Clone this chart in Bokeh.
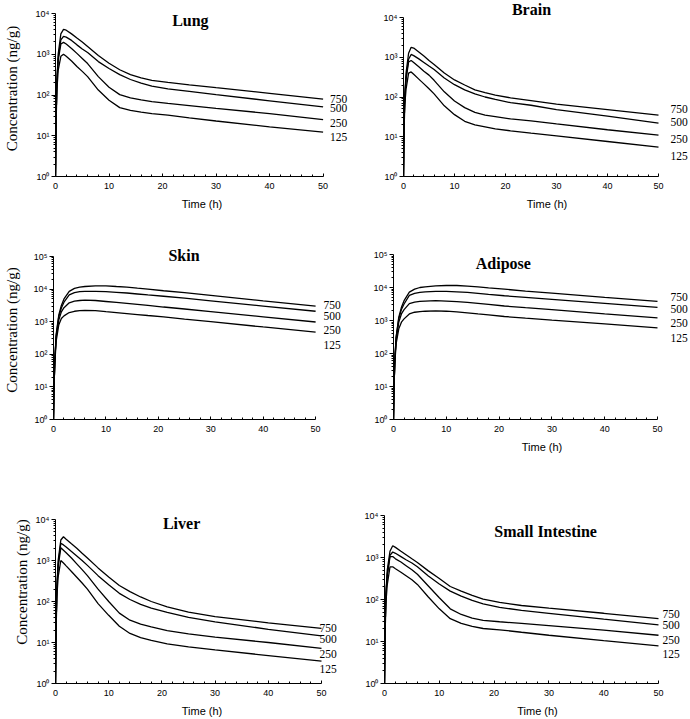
from bokeh.plotting import figure
from bokeh.models import FixedTicker, Label, CustomJSTickFormatter
from bokeh.layouts import column, row
from bokeh.embed import file_html
from bokeh.resources import INLINE

# ---------------- data (concentration, ng/g) ----------------
time_h = [0, 0.1, 0.25, 0.5, 1, 1.5, 2, 3, 4, 5, 6, 8, 10, 12, 14, 16, 18, 21, 25, 30, 40, 50]
doses = ["750", "500", "250", "125"]

lung_750 = [1, 20, 200, 1000, 3160, 4070, 3890, 3160, 2510, 2000, 1550, 930, 600, 417, 316, 263, 229, 204, 178, 151, 110, 79]
lung_500 = [1, 20, 200, 790, 2240, 2750, 2630, 2190, 1700, 1350, 1100, 660, 447, 316, 240, 195, 166, 141, 123, 102, 72, 51]
lung_250 = [1, 20, 200, 710, 1780, 1950, 1780, 1380, 1050, 790, 590, 282, 155, 102, 85, 76, 69, 62, 55, 47, 35, 25]
lung_125 = [1, 16, 126, 400, 890, 1000, 890, 680, 500, 380, 282, 132, 74, 49, 42, 38, 35, 32, 27.5, 23, 16.6, 12.3]

brain_750 = [1, 16, 100, 400, 1260, 1780, 1700, 1350, 1070, 830, 660, 400, 269, 200, 151, 129, 112, 95, 81, 66, 48, 35]
brain_500 = [1, 16, 100, 316, 890, 1175, 1100, 910, 740, 600, 490, 302, 204, 151, 120, 100, 87, 72, 62, 48, 33, 22]
brain_250 = [1, 16, 100, 282, 760, 830, 740, 575, 447, 355, 263, 135, 79, 54, 41, 35, 32, 28, 25, 21, 15, 11]
brain_125 = [1, 12.6, 63, 158, 400, 427, 372, 282, 214, 162, 120, 60, 36, 24.5, 20, 17.8, 15.8, 14.1, 12.3, 10.5, 7.6, 5.5]

skin_750 = [1, 10, 63, 400, 1580, 3160, 5010, 8510, 10500, 11500, 12000, 12600, 12600, 12000, 11500, 10700, 10000, 8910, 7760, 6460, 4370, 3020]
skin_500 = [1, 10, 63, 355, 1410, 2630, 3980, 6610, 7760, 8320, 8510, 8510, 8320, 7940, 7590, 7080, 6610, 6030, 5250, 4370, 3020, 2090]
skin_250 = [1, 10, 63, 316, 1120, 2000, 2690, 3800, 4270, 4470, 4570, 4470, 4170, 3890, 3630, 3390, 3160, 2820, 2450, 2040, 1410, 980]
skin_125 = [1, 10, 50, 250, 790, 1260, 1510, 1910, 2090, 2190, 2240, 2190, 2040, 1910, 1780, 1660, 1550, 1410, 1200, 1000, 690, 480]

adipose_750 = [1, 10, 63, 316, 1260, 2510, 3980, 7240, 8910, 10000, 10500, 11200, 11500, 11500, 11000, 10500, 9770, 8910, 7760, 6760, 5010, 3800]
adipose_500 = [1, 10, 63, 316, 1120, 2140, 3160, 5750, 6610, 7080, 7410, 7590, 7590, 7410, 7080, 6610, 6170, 5620, 5010, 4370, 3310, 2510]
adipose_250 = [1, 10, 63, 250, 890, 1580, 2140, 3240, 3630, 3800, 3890, 3980, 3890, 3720, 3550, 3310, 3090, 2750, 2450, 2140, 1580, 1200]
adipose_125 = [1, 10, 50, 200, 560, 890, 1120, 1580, 1780, 1860, 1910, 1950, 1910, 1820, 1700, 1580, 1480, 1320, 1175, 1020, 790, 600]

liver_750 = [1, 20, 200, 1000, 3160, 3800, 3310, 2570, 2000, 1510, 1150, 660, 398, 245, 174, 129, 100, 74, 55, 43, 30, 22]
liver_500 = [1, 20, 200, 790, 2630, 2400, 2140, 1660, 1290, 1000, 760, 427, 257, 158, 112, 85, 69, 54, 41, 32, 21, 14.5]
liver_250 = [1, 20, 200, 710, 2040, 1780, 1550, 1150, 830, 600, 427, 200, 100, 52, 35, 28, 24, 19.5, 16.2, 13.5, 10, 7.2]
liver_125 = [1, 16, 126, 400, 1000, 870, 740, 540, 390, 282, 200, 89, 46, 25, 16.6, 13.2, 11.2, 9.3, 7.8, 6.6, 4.8, 3.5]

si_750 = [1, 16, 126, 500, 1410, 1910, 1740, 1410, 1150, 930, 760, 480, 316, 204, 158, 126, 102, 85, 72, 62, 47, 35]
si_500 = [1, 16, 126, 400, 1120, 1350, 1260, 1050, 870, 740, 600, 363, 234, 158, 120, 95, 79, 65, 55, 47, 34, 25]
si_250 = [1, 16, 126, 355, 1050, 1050, 930, 780, 630, 510, 398, 209, 110, 60, 44, 36, 32, 29.5, 27, 24, 18.6, 14.1]
si_125 = [1, 12.6, 79, 224, 600, 600, 540, 447, 363, 295, 229, 115, 60, 35, 27, 23, 20.4, 19, 16.6, 14.1, 10.5, 7.9]

x_ticks = [0, 10, 20, 30, 40, 50]
x_max = 50

# ---------------- layout / style per panel ----------------
# w,h: figure size; bl: frame left; R: pixel of t=50; T: pixel of top decade; B: pixel of 10^0
panels = [
    dict(name="Lung", series=[lung_750, lung_500, lung_250, lung_125], top=4,
         w=348, h=240, bl=48, R=322, T=13, B=176, ylab=True, xlab=True, ystand=13,
         title_xy=(25.2, 10 ** 3.83), ldx=7, ldy=[-0.6, 1.5, 3.8, 5]),
    dict(name="Brain", series=[brain_750, brain_500, brain_250, brain_125], top=4,
         w=342, h=240, bl=55, R=310, T=17, B=176, ylab=False, xlab=True, ystand=8,
         title_xy=(25.1, 10 ** 4.20), ldx=12, ldy=[-6, -0.7, 3.7, 9]),
    dict(name="Skin", series=[skin_750, skin_500, skin_250, skin_125], top=5,
         w=348, h=240, bl=52, R=315, T=16, B=179, ylab=True, xlab=False, ystand=11,
         title_xy=(24.9, 10 ** 5.03), ldx=8, ldy=[-0.6, 5, 8.5, 13]),
    dict(name="Adipose", series=[adipose_750, adipose_500, adipose_250, adipose_125], top=5,
         w=342, h=240, bl=45, R=309, T=14, B=179, ylab=False, xlab=True, ystand=8,
         title_xy=(20.8, 10 ** 4.73), ldx=13, ldy=[-4, 1.2, 5.6, 9.7]),
    dict(name="Liver", series=[liver_750, liver_500, liver_250, liver_125], top=4,
         w=348, h=239, bl=55, R=321, T=39, B=203, ylab=True, xlab=True, ystand=3,
         title_xy=(23.7, 10 ** 3.90), ldx=-2, ldy=[0, 3.6, 5.3, 7.5]),
    dict(name="Small Intestine", series=[si_750, si_500, si_250, si_125], top=4,
         w=342, h=239, bl=36, R=310, T=35, B=203, ylab=False, xlab=True, ystand=8,
         title_xy=(29.4, 10 ** 3.62), ldx=4, ldy=[-5, 0, 4.3, 8]),
]

sup_js = "const s=['\u2070','\u00b9','\u00b2','\u00b3','\u2074','\u2075'];" \
         "return '10' + s[Math.round(Math.log10(tick))];"


def make_panel(spec):
    top = spec["top"]
    bl, R, T, B, w, h = spec["bl"], spec["R"], spec["T"], spec["B"], spec["w"], spec["h"]
    x_end = (w - bl) * x_max / (R - bl)
    y_end = 10 ** (B * top / (B - T))
    p = figure(width=w, height=h, x_range=(0, x_end), y_range=(1, y_end),
               y_axis_type="log", output_backend="svg", toolbar_location=None,
               min_border_left=bl, min_border_right=0,
               min_border_top=0, min_border_bottom=h - B)
    p.outline_line_color = None
    p.grid.visible = False
    p.background_fill_color = "white"
    p.border_fill_color = "white"

    for s in spec["series"]:
        p.line(time_h, s, line_color="black", line_width=1.3)

    xa = p.xaxis[0]
    xa.bounds = (0, x_max)
    xa.ticker = FixedTicker(ticks=x_ticks,
                            minor_ticks=[v for v in range(0, 51, 2) if v % 10])
    xa.major_tick_in = 3
    xa.major_tick_out = 0
    xa.minor_tick_in = 2
    xa.minor_tick_out = 0
    xa.major_label_standoff = 6
    xa.major_label_text_font = "Liberation Sans"
    xa.major_label_text_font_size = "9px"
    xa.major_label_text_color = "black"
    xa.axis_line_color = "black"
    if spec["xlab"]:
        xa.axis_label = "Time (h)"
        xa.axis_label_text_font = "Liberation Sans"
        xa.axis_label_text_font_size = "11px"
        xa.axis_label_text_font_style = "normal"
        xa.axis_label_text_color = "black"
        xa.axis_label_standoff = 6

    ya = p.yaxis[0]
    ya.bounds = (1, 10 ** top)
    ya.ticker = FixedTicker(ticks=[10 ** k for k in range(top + 1)],
                            minor_ticks=[m * 10 ** k for k in range(top) for m in range(2, 10)])
    ya.formatter = CustomJSTickFormatter(code=sup_js)
    ya.major_tick_in = 0
    ya.major_tick_out = 4
    ya.minor_tick_in = 0
    ya.minor_tick_out = 2
    ya.major_label_standoff = 2
    ya.major_label_text_font = "Liberation Sans"
    ya.major_label_text_font_size = "9px"
    ya.major_label_text_color = "black"
    ya.axis_line_color = "black"
    if spec["ylab"]:
        ya.axis_label = "Concentration (ng/g)"
        ya.axis_label_text_font = "Liberation Serif"
        ya.axis_label_text_font_size = "15px"
        ya.axis_label_text_font_style = "normal"
        ya.axis_label_text_color = "black"
        ya.axis_label_standoff = spec["ystand"]

    tx, ty = spec["title_xy"]
    p.add_layout(Label(x=tx, y=ty, text=spec["name"], text_font="Liberation Serif",
                       text_font_style="bold", text_font_size="16px", text_color="black",
                       text_align="center", text_baseline="middle"))

    for d, s, dy in zip(doses, spec["series"], spec["ldy"]):
        p.add_layout(Label(x=x_max, y=s[-1], x_offset=spec["ldx"], y_offset=-dy, text=d,
                           text_font="Liberation Serif", text_font_size="11.5px",
                           text_color="black", text_align="left", text_baseline="middle"))
    return p


figs = [make_panel(s) for s in panels]
layout = column(row(figs[0], figs[1]), row(figs[2], figs[3]), row(figs[4], figs[5]))

open("out.html", "w").write(file_html(layout, INLINE))
